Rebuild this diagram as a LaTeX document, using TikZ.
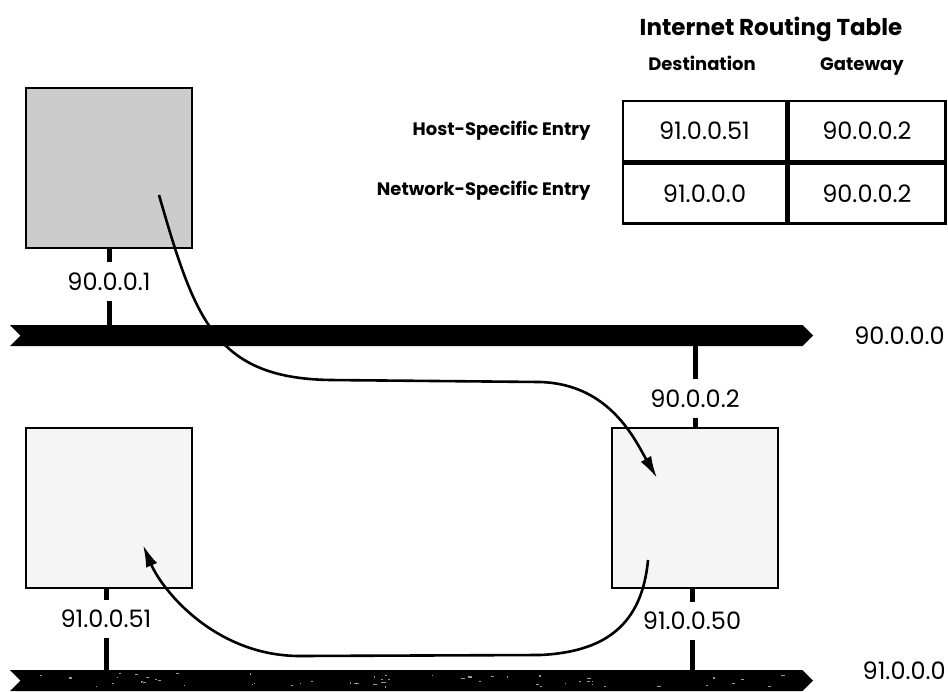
\documentclass[tikz,border=0pt]{standalone}
\usepackage{fontspec}
\setmainfont{Poppins}
\usepackage{tikz}
\usetikzlibrary{positioning,arrows.meta,shapes.symbols}
\definecolor{hostDark}{gray}{0.8}
\definecolor{hostLight}{gray}{0.96}
\tikzset{
  host/.style={draw, line width=2.2pt, minimum width=166pt, minimum height=160pt, inner sep=0pt},
  hostSrc/.style={host, fill=hostDark},
  hostDst/.style={host, fill=hostLight},
  addr/.style={inner sep=10pt, font=\fontsize{24}{26}\selectfont},
  net/.style={signal, signal from=west, signal to=east, fill=black, minimum width=803pt, minimum height=21pt, inner sep=0pt},
  netLabel/.style={anchor=east, inner sep=0pt, font=\fontsize{24}{26}\selectfont},
  tick/.style={line width=5pt},
  route/.style={-{Latex[length=22pt, width=12pt]}, line width=2.6pt},
  cell/.style={draw, line width=2.4pt, minimum height=60pt, inner sep=0pt, font=\fontsize{24}{26}\selectfont},
  rowLabel/.style={anchor=east, font=\bfseries\fontsize{18}{20}\selectfont},
  colHead/.style={anchor=base, font=\bfseries\fontsize{18}{20}\selectfont}
}

\begin{document}
\begin{tikzpicture}[x=1pt, y=-1pt]
  \useasboundingbox (0,0) rectangle (948,691);

  % routing table
  \node[font=\bfseries\fontsize{23}{25}\selectfont] (title) at (771,29) {Internet Routing Table};
  \node[colHead] (destHead) at (702,70) {Destination};
  \node[colHead] (gwHead) at (862,70) {Gateway};
  \node[cell, minimum width=163pt] (destHost) at (704.5,131) {91.0.0.51};
  \node[cell, minimum width=157pt, right=0pt of destHost] (gwHost) {90.0.0.2};
  \node[cell, minimum width=163pt, below=0pt of destHost] (destNet) {91.0.0.0};
  \node[cell, minimum width=157pt, right=0pt of destNet] (gwNet) {90.0.0.2};
  \node[rowLabel] (hostEntry) at (594,131) {Host-Specific Entry};
  \node[rowLabel] (netEntry) at (594,191) {Network-Specific Entry};

  % networks
  \node[net] (net90) at (411.5,335.5) {};
  \node[net] (net91) at (411.5,680.5) {};
  \node[netLabel] (net90Label) at (945,336) {90.0.0.0};
  \node[netLabel] (net91Label) at (946,671) {91.0.0.0};
  \pgfmathsetseed{7}
  \foreach \k in {1,...,55}{
    \fill[white, opacity=0.6] (40+rnd*760,673+rnd*14) rectangle ++(1+rnd*3,0.8+rnd*0.8);
  }

  % hosts and gateway
  \node[hostSrc] (hostA) at (109,168) {};
  \node[addr] (hostAAddr) at (109,281.5) {90.0.0.1};
  \node[hostDst] (hostB) at (109,508) {};
  \node[addr] (hostBAddr) at (106,619) {91.0.0.51};
  \node[hostDst] (gateway) at (695,508) {};
  \node[addr] (gwAddr90) at (695,398.5) {90.0.0.2};
  \node[addr] (gwAddr91) at (692,621) {91.0.0.50};

  \draw[tick] (hostA.south) -- (hostAAddr.north);
  \draw[tick] (hostAAddr.south) -- (hostAAddr.south |- net90.north);
  \draw[tick] (net90.south -| gwAddr90) -- (gwAddr90.north);
  \draw[tick] (gwAddr90.south) -- (gateway.north);
  \draw[tick] (hostB.south -| hostBAddr) -- (hostBAddr.north);
  \draw[tick] (hostBAddr.south) -- (hostBAddr.south |- net91.north);
  \draw[tick] (gateway.south -| gwAddr91) -- (gwAddr91.north);
  \draw[tick] (gwAddr91.south) -- (gwAddr91.south |- net91.north);

  % datagram path
  \coordinate (fromHostA) at (159,195);
  \coordinate (toGateway) at (657,478);
  \coordinate (fromGateway) at (648,560);
  \coordinate (toHostB) at (143,545);
  \draw[route] (fromHostA) .. controls (195,320) and (215,378) .. (330,380)
    -- (540,382) .. controls (610,384) and (635,440) .. (toGateway);
  \draw[route] (fromGateway) .. controls (642,625) and (605,652) .. (540,655)
    -- (300,656) .. controls (215,656) and (162,590) .. (toHostB);
\end{tikzpicture}
\end{document}
